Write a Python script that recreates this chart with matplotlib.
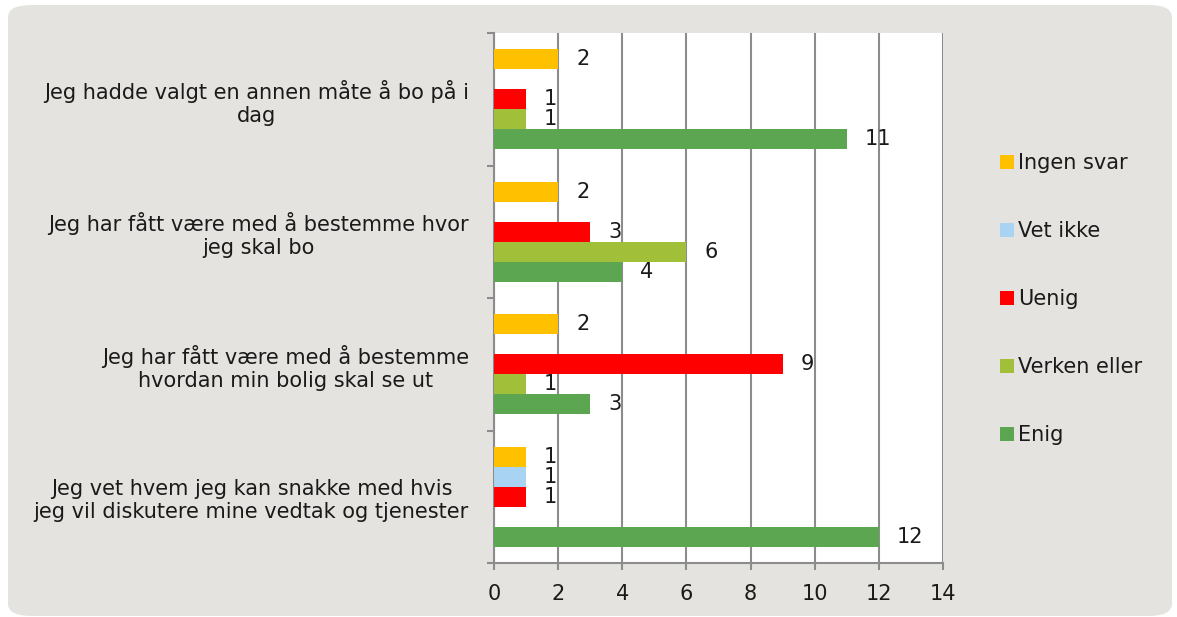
import numpy as np
import matplotlib.pyplot as plt
from matplotlib.patches import FancyBboxPatch, Patch

# Data
categories = [
    "Jeg hadde valgt en annen måte å bo på i\ndag",
    "Jeg har fått være med å bestemme hvor\njeg skal bo",
    "Jeg har fått være med å bestemme\nhvordan min bolig skal se ut",
    "Jeg vet hvem jeg kan snakke med hvis\njeg vil diskutere mine vedtak og tjenester",
]
series = ["Ingen svar", "Vet ikke", "Uenig", "Verken eller", "Enig"]
ingen_svar = [2, 2, 2, 1]
vet_ikke = [0, 0, 0, 1]
uenig = [1, 3, 9, 1]
verken_eller = [1, 6, 1, 0]
enig = [11, 4, 3, 12]
colors = ["#FFC000", "#A9D3F3", "#FF0000", "#A2BF3A", "#5CA651"]

values = [ingen_svar, vet_ikke, uenig, verken_eller, enig]
fs = 15
txt = '#1A1A1A'

plt.rcParams['font.family'] = ['DejaVu Sans']
fig = plt.figure(figsize=(11.77, 6.17), dpi=100, facecolor='white')

# rounded grey background
bg = FancyBboxPatch((8 / 1177, 1 / 617), 1164 / 1177, 611 / 617,
                    boxstyle="round,pad=0,rounding_size=0.02",
                    transform=fig.transFigure, facecolor='#E4E3DF',
                    edgecolor='none', zorder=-10)
fig.patches.append(bg)

ax = fig.add_axes([494 / 1177, 1 - 563 / 617, (943 - 494) / 1177, (563 - 33) / 617])
ax.set_zorder(1)
ax.set_facecolor('white')

y = np.arange(len(categories))
h = 0.151
for i, (name, vals, c) in enumerate(zip(series, values, colors)):
    pos = y + (i - 2) * h
    ax.barh(pos, vals, height=h, color=c, label=name, zorder=3)
    for p, v in zip(pos, vals):
        if v > 0:
            ax.annotate(str(v), (v, p), xytext=(13, 0), textcoords='offset points',
                        va='center', ha='left', fontsize=fs, color=txt, zorder=4)

ax.set_xlim(0, 14)
ax.set_ylim(3.5, -0.5)
ax.set_xticks(range(0, 15, 2))
ax.tick_params(axis='x', labelsize=fs, length=5, width=1.5, color='#8C8C8C',
               pad=10, labelcolor=txt)
ax.set_yticks(y)
ax.set_yticklabels(categories, fontsize=fs, multialignment='center', color=txt)
ax.tick_params(axis='y', which='major', length=0, pad=18)
ax.set_yticks(np.arange(-0.5, 4.0, 1.0), minor=True)
ax.tick_params(axis='y', which='minor', length=5, width=1.5, color='#8C8C8C')

ax.grid(axis='x', color='#8C8C8C', linewidth=1.5, zorder=1)
for s in ['top', 'right']:
    ax.spines[s].set_visible(False)
for s in ['left', 'bottom']:
    ax.spines[s].set_color('#8C8C8C')
    ax.spines[s].set_linewidth(1.5)

handles = [Patch(facecolor=c, edgecolor='none', label=n) for n, c in zip(series, colors)]
leg = fig.legend(handles=handles, loc='center left', bbox_to_anchor=(0.841, 0.515),
                 frameon=False, fontsize=fs, handlelength=0.65, handleheight=0.65,
                 handletextpad=0.2, labelspacing=2.3, borderpad=0)
for t in leg.get_texts():
    t.set_color(txt)

fig.savefig('out.png', dpi=100, facecolor='white')
